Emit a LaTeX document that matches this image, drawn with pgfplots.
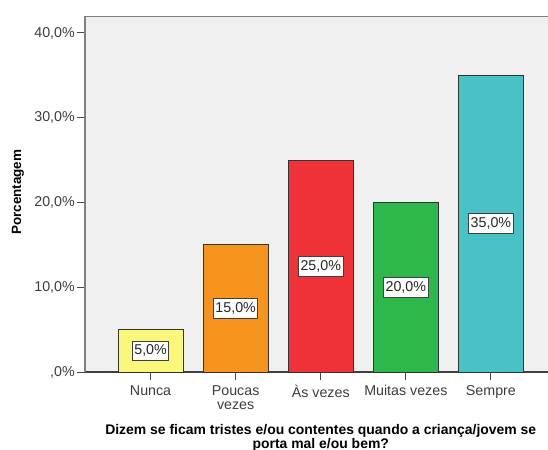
\documentclass[border=0pt]{standalone}
\usepackage{pgfplots}
\pgfplotsset{compat=1.18}
\usepackage{fontspec}
\setmainfont{Liberation Sans}
\definecolor{cyel}{RGB}{250,247,122}
\definecolor{cora}{RGB}{247,148,29}
\definecolor{cred}{RGB}{238,50,56}
\definecolor{cgre}{RGB}{45,184,75}
\definecolor{ctea}{RGB}{72,194,198}
\definecolor{cbg}{RGB}{240,240,240}
\definecolor{ctxt}{RGB}{60,60,60}
\begin{document}
\begin{tikzpicture}
\begin{axis}[
  scale only axis, width=471.5bp, height=356bp,
  xmin=-0.7706, xmax=4.7706, ymin=0, ymax=42,
  axis background/.style={fill=cbg},
  axis x line*=bottom, axis y line*=left,
  x axis line style={-, draw=black!75, line width=1.3bp},
  y axis line style={-, draw=gray, line width=1.3bp},
  tick align=outside, major tick length=8bp,
  x tick style={draw=black!70, line width=1bp},
  y tick style={draw=black!70, line width=1bp},
  xtick={0,1,2,3,4},
  xticklabels={Nunca,{Poucas\\vezes},Às vezes,Muitas vezes,Sempre},
  xticklabel style={align=center, font=\fontsize{14.3}{15}\selectfont, text=ctxt, inner sep=2bp, yshift=-3bp},
  ytick={0,10,20,30,40},
  yticklabels={{,0\%},{10,0\%},{20,0\%},{30,0\%},{40,0\%}},
  yticklabel style={font=\fontsize{14.3}{15}\selectfont, text=ctxt, inner sep=2bp},
  ylabel={Porcentagem},
  every axis y label/.style={at={(axis description cs:-0.1422,0.505)}, rotate=90, anchor=center, font=\bfseries\fontsize{13.5}{14}\selectfont},
  xlabel={Dizem se ficam tristes e/ou contentes quando a criança/jovem se\\porta mal e/ou bem?},
  every axis x label/.style={at={(axis description cs:0.5,-0.1854)}, anchor=center, align=center, font=\bfseries\fontsize{14}{14}\selectfont},
  ybar, bar width=65bp, bar shift=0pt,
  nodes near coords,
  visualization depends on={y \as \rawy},
  every node near coord/.append style={anchor=center, shift={(axis direction cs:0,-\rawy/2)},
     fill=white, draw=black!75, line width=0.8bp, text=black!85, inner xsep=2bp, inner ysep=4bp,
     font=\fontsize{14.3}{15}\selectfont},
]
\addplot[fill=cyel, draw=black!80, line width=0.9bp, nodes near coords={5,0\%}] coordinates {(0,5)};
\addplot[fill=cora, draw=black!80, line width=0.9bp, nodes near coords={15,0\%}] coordinates {(1,15)};
\addplot[fill=cred, draw=black!80, line width=0.9bp, nodes near coords={25,0\%}] coordinates {(2,25)};
\addplot[fill=cgre, draw=black!80, line width=0.9bp, nodes near coords={20,0\%}] coordinates {(3,20)};
\addplot[fill=ctea, draw=black!80, line width=0.9bp, nodes near coords={35,0\%}] coordinates {(4,35)};
\draw[gray, line width=1.3bp] (rel axis cs:0,1) -- (rel axis cs:1,1);
\end{axis}
\pgfresetboundingbox
\path[use as bounding box] (-85bp,-78bp) rectangle (463bp,372bp);
\end{tikzpicture}
\end{document}
